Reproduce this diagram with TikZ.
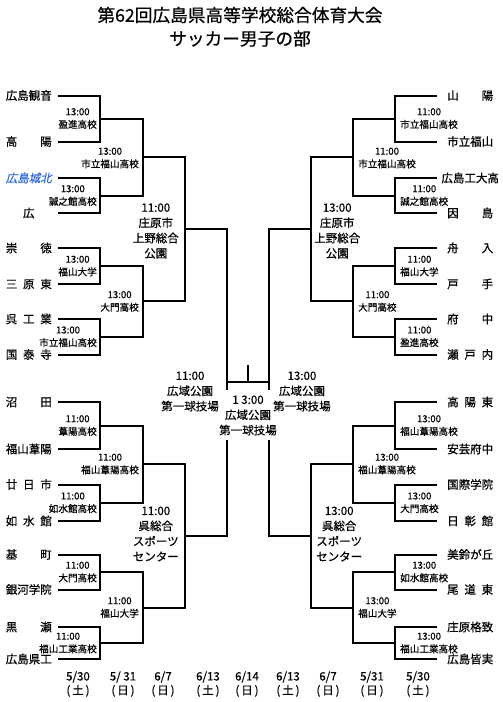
\documentclass[tikz,border=0pt]{standalone}
\usepackage{fontspec}
\setmainfont{Noto Sans CJK JP}[FakeBold=0.6]
\newfontfamily\jpslant{Noto Sans CJK JP}[FakeSlant=0.2,FakeBold=0.6]
\definecolor{seedblue}{RGB}{50,105,215}
\newcommand{\tname}[1]{\makebox[46pt][s]{#1}}
\tikzset{
  bk/.style={line width=2pt},
  teamL/.style={anchor=east, inner xsep=6pt, inner ysep=0pt, font=\fontsize{11.5}{13}\selectfont, text height=9.5pt, text depth=0.8pt},
  teamR/.style={teamL, anchor=west, inner xsep=10pt},
  r1L/.style={anchor=east, inner sep=0pt, align=center, font=\fontsize{9.6}{12.8}\selectfont},
  r1R/.style={r1L, anchor=west},
  r3L/.style={anchor=east, inner sep=0pt, align=center, font=\fontsize{11.5}{15.3}\selectfont},
  r3R/.style={r3L, anchor=west},
  dat/.style={align=center, inner sep=0pt, font=\fontsize{11.5}{14}\selectfont},
  ttl/.style={inner sep=0pt, font=\fontsize{17.7}{20}\selectfont, text height=14.7pt, text depth=1.2pt}
}

\begin{document}
\begin{tikzpicture}[x=1pt,y=-1pt]
  \useasboundingbox (0,0) rectangle (503,702);
  \node[ttl] (title1) at (240,15) {第62回広島県高等学校総合体育大会};
  \node[ttl] (title2) at (240,38.5) {サッカー男子の部};

  \node[teamL] (t1) at (58,95.5) {\tname{広島観音}};
  \node[teamL] (t2) at (58,141.5) {\tname{高\hfill 陽}};
  \node[teamL, text=seedblue] (t3) at (58,178) {\jpslant\tname{広島城北}};
  \node[teamL] (t4) at (58,213) {\tname{\hfill 広\hfill}};
  \node[teamL] (t5) at (58,248) {\tname{崇\hfill 徳}};
  \node[teamL] (t6) at (58,284) {\tname{三\hfill 原\hfill 東}};
  \node[teamL] (t7) at (58,319) {\tname{呉\hfill 工\hfill 業}};
  \node[teamL] (t8) at (58,354.5) {\tname{国\hfill 泰\hfill 寺}};
  \node[teamL] (t9) at (58,402) {\tname{沼\hfill 田}};
  \node[teamL] (t10) at (58,449) {\tname{福山葦陽}};
  \node[teamL] (t11) at (58,484.5) {\tname{廿\hfill 日\hfill 市}};
  \node[teamL] (t12) at (58,521) {\tname{如\hfill 水\hfill 館}};
  \node[teamL] (t13) at (58,554.5) {\tname{基\hfill 町}};
  \node[teamL] (t14) at (58,589.5) {\tname{銀河学院}};
  \node[teamL] (t15) at (58,627) {\tname{黒\hfill 瀬}};
  \node[teamL] (t16) at (58,659) {\tname{広島県工}};

  \node[teamR] (u1) at (437,95.5) {\tname{山\hfill 陽}};
  \node[teamR] (u2) at (437,141.5) {\tname{市立福山}};
  \node[teamR] (u3) at (437,178) {\tname{\hss 広島工大高\hss}};
  \node[teamR] (u4) at (437,213) {\tname{因\hfill 島}};
  \node[teamR] (u5) at (437,248) {\tname{舟\hfill 入}};
  \node[teamR] (u6) at (437,284) {\tname{戸\hfill 手}};
  \node[teamR] (u7) at (437,319) {\tname{府\hfill 中}};
  \node[teamR] (u8) at (437,354.5) {\tname{瀬\hfill 戸\hfill 内}};
  \node[teamR] (u9) at (437,402) {\tname{高\hfill 陽\hfill 東}};
  \node[teamR] (u10) at (437,449) {\tname{安芸府中}};
  \node[teamR] (u11) at (437,484.5) {\tname{国際学院}};
  \node[teamR] (u12) at (437,521) {\tname{日\hfill 彰\hfill 館}};
  \node[teamR] (u13) at (437,554.5) {\tname{美鈴が丘}};
  \node[teamR] (u14) at (437,589.5) {\tname{尾\hfill 道\hfill 東}};
  \node[teamR] (u15) at (437,627) {\tname{庄原格致}};
  \node[teamR] (u16) at (437,659) {\tname{広島皆実}};

  \coordinate (a1) at (100,118.5);
  \coordinate (a2) at (100,195.5);
  \coordinate (a3) at (100,266);
  \coordinate (a4) at (100,336.75);
  \coordinate (a5) at (100,425.5);
  \coordinate (a6) at (100,502.75);
  \coordinate (a7) at (100,572);
  \coordinate (a8) at (100,643);
  \coordinate (b1) at (143,157);
  \coordinate (b2) at (143,301.4);
  \coordinate (b3) at (143,464);
  \coordinate (b4) at (143,607.5);
  \coordinate (c1) at (185,229);
  \coordinate (c2) at (185,536);
  \coordinate (eL) at (227,390);
  \coordinate (gL) at (227,440);

  \coordinate (p1) at (395,118.5);
  \coordinate (p2) at (395,195.5);
  \coordinate (p3) at (395,266);
  \coordinate (p4) at (395,336.75);
  \coordinate (p5) at (395,425.5);
  \coordinate (p6) at (395,502.75);
  \coordinate (p7) at (395,572);
  \coordinate (p8) at (395,643);
  \coordinate (q1) at (353,157);
  \coordinate (q2) at (353,301.4);
  \coordinate (q3) at (353,464);
  \coordinate (q4) at (353,607.5);
  \coordinate (r1) at (311,229);
  \coordinate (r2) at (311,536);
  \coordinate (eR) at (269,390);
  \coordinate (gR) at (269,440);

  \coordinate (fL) at (227,382);
  \coordinate (fR) at (269,382);
  \coordinate (fT) at (248,365);

  \draw[bk] (t1.east) -| (a1) |- (t2.east);
  \draw[bk] (t3.east) -| (a2) |- (t4.east);
  \draw[bk] (t5.east) -| (a3) |- (t6.east);
  \draw[bk] (t7.east) -| (a4) |- (t8.east);
  \draw[bk] (t9.east) -| (a5) |- (t10.east);
  \draw[bk] (t11.east) -| (a6) |- (t12.east);
  \draw[bk] (t13.east) -| (a7) |- (t14.east);
  \draw[bk] (t15.east) -| (a8) |- (t16.east);
  \draw[bk] (a1) -| (b1) |- (a2);
  \draw[bk] (a3) -| (b2) |- (a4);
  \draw[bk] (a5) -| (b3) |- (a6);
  \draw[bk] (a7) -| (b4) |- (a8);
  \draw[bk] (b1) -| (c1) |- (b2);
  \draw[bk] (b3) -| (c2) |- (b4);
  \draw[bk] (c1) -| (eL);
  \draw[bk] (c2) -| (gL);

  \draw[bk] (u1.west) -| (p1) |- (u2.west);
  \draw[bk] (u3.west) -| (p2) |- (u4.west);
  \draw[bk] (u5.west) -| (p3) |- (u6.west);
  \draw[bk] (u7.west) -| (p4) |- (u8.west);
  \draw[bk] (u9.west) -| (p5) |- (u10.west);
  \draw[bk] (u11.west) -| (p6) |- (u12.west);
  \draw[bk] (u13.west) -| (p7) |- (u14.west);
  \draw[bk] (u15.west) -| (p8) |- (u16.west);
  \draw[bk] (p1) -| (q1) |- (p2);
  \draw[bk] (p3) -| (q2) |- (p4);
  \draw[bk] (p5) -| (q3) |- (p6);
  \draw[bk] (p7) -| (q4) |- (p8);
  \draw[bk] (q1) -| (r1) |- (q2);
  \draw[bk] (q3) -| (r2) |- (q4);
  \draw[bk] (r1) -| (eR);
  \draw[bk] (r2) -| (gR);

  \draw[bk] (fL) -- (fR);
  \draw[bk] (fT) -- (fT |- fL);

  \node[r1L] (v1) at (97,118.5) {13:00\\盈進高校};
  \node[r1L] (v2) at (97,195.5) {13:00\\誠之館高校};
  \node[r1L] (v3) at (97,266) {13:00\\福山大学};
  \node[r1L] (v4) at (97,336.75) {13:00\\市立福山高校};
  \node[r1L] (v5) at (97,425.5) {11:00\\葦陽高校};
  \node[r1L] (v6) at (97,502.75) {11:00\\如水館高校};
  \node[r1L] (v7) at (97,572) {11:00\\大門高校};
  \node[r1L] (v8) at (97,643) {11:00\\福山工業高校};
  \node[r1L] (w1) at (139,158) {13:00\\市立福山高校};
  \node[r1L] (w2) at (139,301.4) {13:00\\大門高校};
  \node[r1L] (w3) at (139,464) {11:00\\福山葦陽高校};
  \node[r1L] (w4) at (139,607.5) {11:00\\福山大学};
  \node[r3L] (x1) at (179,231) {11:00\\庄原市\\上野総合\\公園};
  \node[r3L] (x2) at (179,534) {11:00\\呉総合\\スポーツ\\センター};

  \node[r1R] (v9) at (400,118.5) {11:00\\市立福山高校};
  \node[r1R] (v10) at (400,195.5) {11:00\\誠之館高校};
  \node[r1R] (v11) at (400,266) {11:00\\福山大学};
  \node[r1R] (v12) at (400,336.75) {11:00\\盈進高校};
  \node[r1R] (v13) at (400,425.5) {13:00\\福山葦陽高校};
  \node[r1R] (v14) at (400,502.75) {13:00\\大門高校};
  \node[r1R] (v15) at (400,572) {13:00\\如水館高校};
  \node[r1R] (v16) at (400,643) {13:00\\福山工業高校};
  \node[r1R] (w5) at (358,158) {11:00\\市立福山高校};
  \node[r1R] (w6) at (358,301.4) {11:00\\大門高校};
  \node[r1R] (w7) at (358,464) {13:00\\福山葦陽高校};
  \node[r1R] (w8) at (358,607.5) {13:00\\福山大学};
  \node[r3R] (x3) at (314,231) {13:00\\庄原市\\上野総合\\公園};
  \node[r3R] (x4) at (316,534) {13:00\\呉総合\\スポーツ\\センター};

  \node[r3L] (y1) at (219,391.5) {11:00\\広域公園\\第一球技場};
  \node[r3R] (y2) at (273,391.5) {13:00\\広域公園\\第一球技場};
  \node[r3L, anchor=center] (y3) at (248,415.5) {1 3:00\\広域公園\\第一球技場};

  \node[dat] (d1) at (78,684) {5/30\\(\,土\,)};
  \node[dat] (d2) at (123,684) {5/ 31\\(\,日\,)};
  \node[dat] (d3) at (163,684) {6/7\\(\,日\,)};
  \node[dat] (d4) at (208,684) {6/13\\(\,土\,)};
  \node[dat] (d5) at (247,684) {6/14\\(\,日\,)};
  \node[dat] (d6) at (288,684) {6/13\\(\,土\,)};
  \node[dat] (d7) at (328,684) {6/7\\(\,日\,)};
  \node[dat] (d8) at (372,684) {5/31\\(\,日\,)};
  \node[dat] (d9) at (418,684) {5/30\\(\,土\,)};
\end{tikzpicture}
\end{document}
